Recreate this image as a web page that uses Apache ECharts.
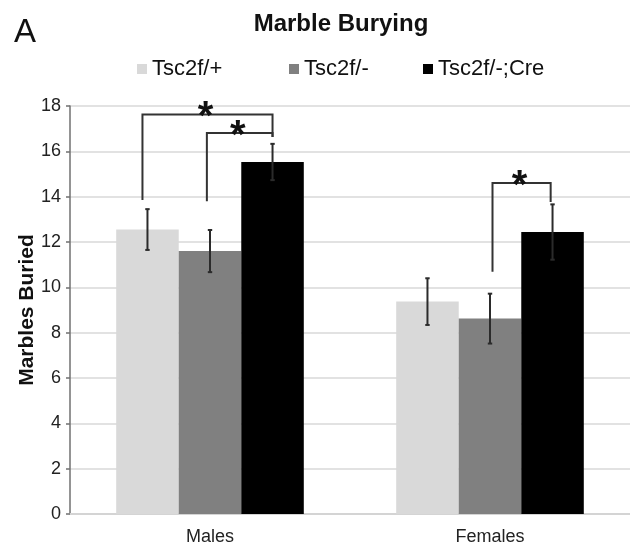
<!DOCTYPE html>
<html>
<head>
<meta charset="utf-8">
<title>Marble Burying</title>
<script src="https://cdn.jsdelivr.net/npm/echarts@6/dist/echarts.min.js"></script>
<style>
  html, body { margin: 0; padding: 0; background: #fff; }
  #chart { width: 630px; height: 549px; }
</style>
</head>
<body>
<div id="chart"></div>
<script>
// Groups on the x axis and the three genotypes
const categories = ['Males', 'Females'];
const genotypes = ['Tsc2f/+', 'Tsc2f/-', 'Tsc2f/-;Cre'];
const genotypeColors = ['#d9d9d9', '#808080', '#000000'];

// Mean marbles buried per genotype, in category order (Males, Females)
const meanWT = [12.55, 9.37];
const meanHet = [11.6, 8.62];
const meanCre = [15.53, 12.44];

// Error bar half-widths (same order)
const errWT = [0.9, 1.03];
const errHet = [0.93, 1.1];
const errCre = [0.8, 1.22];

// Y axis ticks
const yTicks = [0, 2, 4, 6, 8, 10, 12, 14, 16, 18];

// Significance brackets:
// [category, left leg (bar slot), right leg (bar slot), bracket level, left foot, right foot]
const brackets = [
  [0, -0.08, 2, 17.63, 13.85, 16.63],
  [0, 0.95, 2, 16.81, 13.8, 16.63],
  [1, 1.04, 1.97, 14.6, 10.69, 13.77]
];

const FONT = '"Liberation Sans", Arial, Helvetica, sans-serif';
const CATEGORY_GAP = 0.33;

const means = [meanWT, meanHet, meanCre];
const errs = [errWT, errHet, errCre];

// Flattened rows for the error bar series: [category, mean, err, barIndex]
const errorRows = [];
means.forEach((m, b) => {
  m.forEach((v, c) => errorRows.push([c, v, errs[b][c], b]));
});

// Horizontal centre of a bar slot in pixels
function barCenterX(api, cat, barIndex) {
  const catWidth = api.size([1, 0])[0];
  const barW = catWidth * (1 - CATEGORY_GAP) / 3;
  const cx = api.coord([cat, 0])[0];
  return cx + (barIndex - 1) * barW;
}

const chart = echarts.init(document.getElementById('chart'), null, { renderer: 'canvas' });

const legendLefts = [137, 289, 423];

chart.setOption({
  animation: false,
  backgroundColor: '#ffffff',
  textStyle: { fontFamily: FONT },
  title: [
    {
      text: 'Marble Burying',
      left: 341,
      top: 12,
      textAlign: 'center',
      padding: 0,
      textStyle: { fontFamily: FONT, fontSize: 24, fontWeight: 'bold', color: '#111' }
    },
    {
      text: 'A',
      left: 14,
      top: 16,
      padding: 0,
      textStyle: { fontFamily: FONT, fontSize: 33, fontWeight: 'normal', color: '#111' }
    }
  ],
  legend: genotypes.map((g, i) => ({
    data: [g],
    left: legendLefts[i],
    top: 58,
    padding: 0,
    icon: 'rect',
    itemWidth: 10,
    itemHeight: 10,
    selectedMode: false,
    textStyle: { fontFamily: FONT, fontSize: 22, color: '#111' }
  })),
  grid: { left: 70, right: 0, top: 106, bottom: 35, containLabel: false },
  xAxis: {
    type: 'category',
    data: categories,
    axisLine: { show: true, lineStyle: { color: '#d4d4d4', width: 2 } },
    axisTick: { show: false },
    axisLabel: { fontFamily: FONT, fontSize: 18, color: '#222', margin: 14 },
    splitLine: { show: false }
  },
  yAxis: {
    type: 'value',
    min: yTicks[0],
    max: yTicks[yTicks.length - 1],
    interval: yTicks[1] - yTicks[0],
    name: 'Marbles Buried',
    nameLocation: 'middle',
    nameGap: 32,
    nameMoveOverlap: false,
    nameTextStyle: { fontFamily: FONT, fontSize: 21, fontWeight: 'bold', color: '#111' },
    axisLine: { show: true, lineStyle: { color: '#707070', width: 1.5 } },
    axisTick: { show: true, length: 4, lineStyle: { color: '#707070', width: 1.5 } },
    axisLabel: { fontFamily: FONT, fontSize: 18, color: '#222', margin: 9 },
    splitLine: { show: true, lineStyle: { color: '#d9d9d9', width: 1.5 } }
  },
  series: [
    ...genotypes.map((g, i) => ({
      name: g,
      type: 'bar',
      data: means[i],
      barGap: '0%',
      barCategoryGap: (CATEGORY_GAP * 100) + '%',
      itemStyle: { color: genotypeColors[i] },
      z: 2
    })),
    {
      // error bars with small caps
      type: 'custom',
      data: errorRows,
      encode: { x: 0, y: 1 },
      z: 5,
      silent: true,
      renderItem: function (params, api) {
        const cat = api.value(0);
        const mean = api.value(1);
        const err = api.value(2);
        const b = api.value(3);
        const x = barCenterX(api, cat, b);
        const yTop = api.coord([cat, mean + err])[1];
        const yBot = api.coord([cat, mean - err])[1];
        const cap = 2.2;
        const style = { stroke: '#2b2b2b', lineWidth: 2 };
        return {
          type: 'group',
          children: [
            { type: 'line', shape: { x1: x, y1: yTop, x2: x, y2: yBot }, style: style },
            { type: 'line', shape: { x1: x - cap, y1: yTop, x2: x + cap, y2: yTop }, style: style },
            { type: 'line', shape: { x1: x - cap, y1: yBot, x2: x + cap, y2: yBot }, style: style }
          ]
        };
      }
    },
    {
      // significance brackets with asterisks
      type: 'custom',
      data: brackets,
      encode: { x: 0, y: 3 },
      z: 6,
      silent: true,
      renderItem: function (params, api) {
        const cat = api.value(0);
        const xa = barCenterX(api, cat, api.value(1));
        const xb = barCenterX(api, cat, api.value(2));
        const yLevel = api.coord([cat, api.value(3)])[1];
        const yLeft = api.coord([cat, api.value(4)])[1];
        const yRight = api.coord([cat, api.value(5)])[1];
        return {
          type: 'group',
          children: [
            {
              type: 'polyline',
              shape: { points: [[xa, yLeft], [xa, yLevel], [xb, yLevel], [xb, yRight]] },
              style: { stroke: '#333', lineWidth: 2, fill: null }
            },
            {
              type: 'text',
              x: (xa + xb) / 2 - 2,
              y: yLevel + 4,
              style: {
                text: '*',
                fontFamily: FONT,
                fontSize: 40,
                fontWeight: 'bold',
                fill: '#111',
                align: 'center',
                verticalAlign: 'middle'
              }
            }
          ]
        };
      }
    }
  ]
});
</script>
</body>
</html>
